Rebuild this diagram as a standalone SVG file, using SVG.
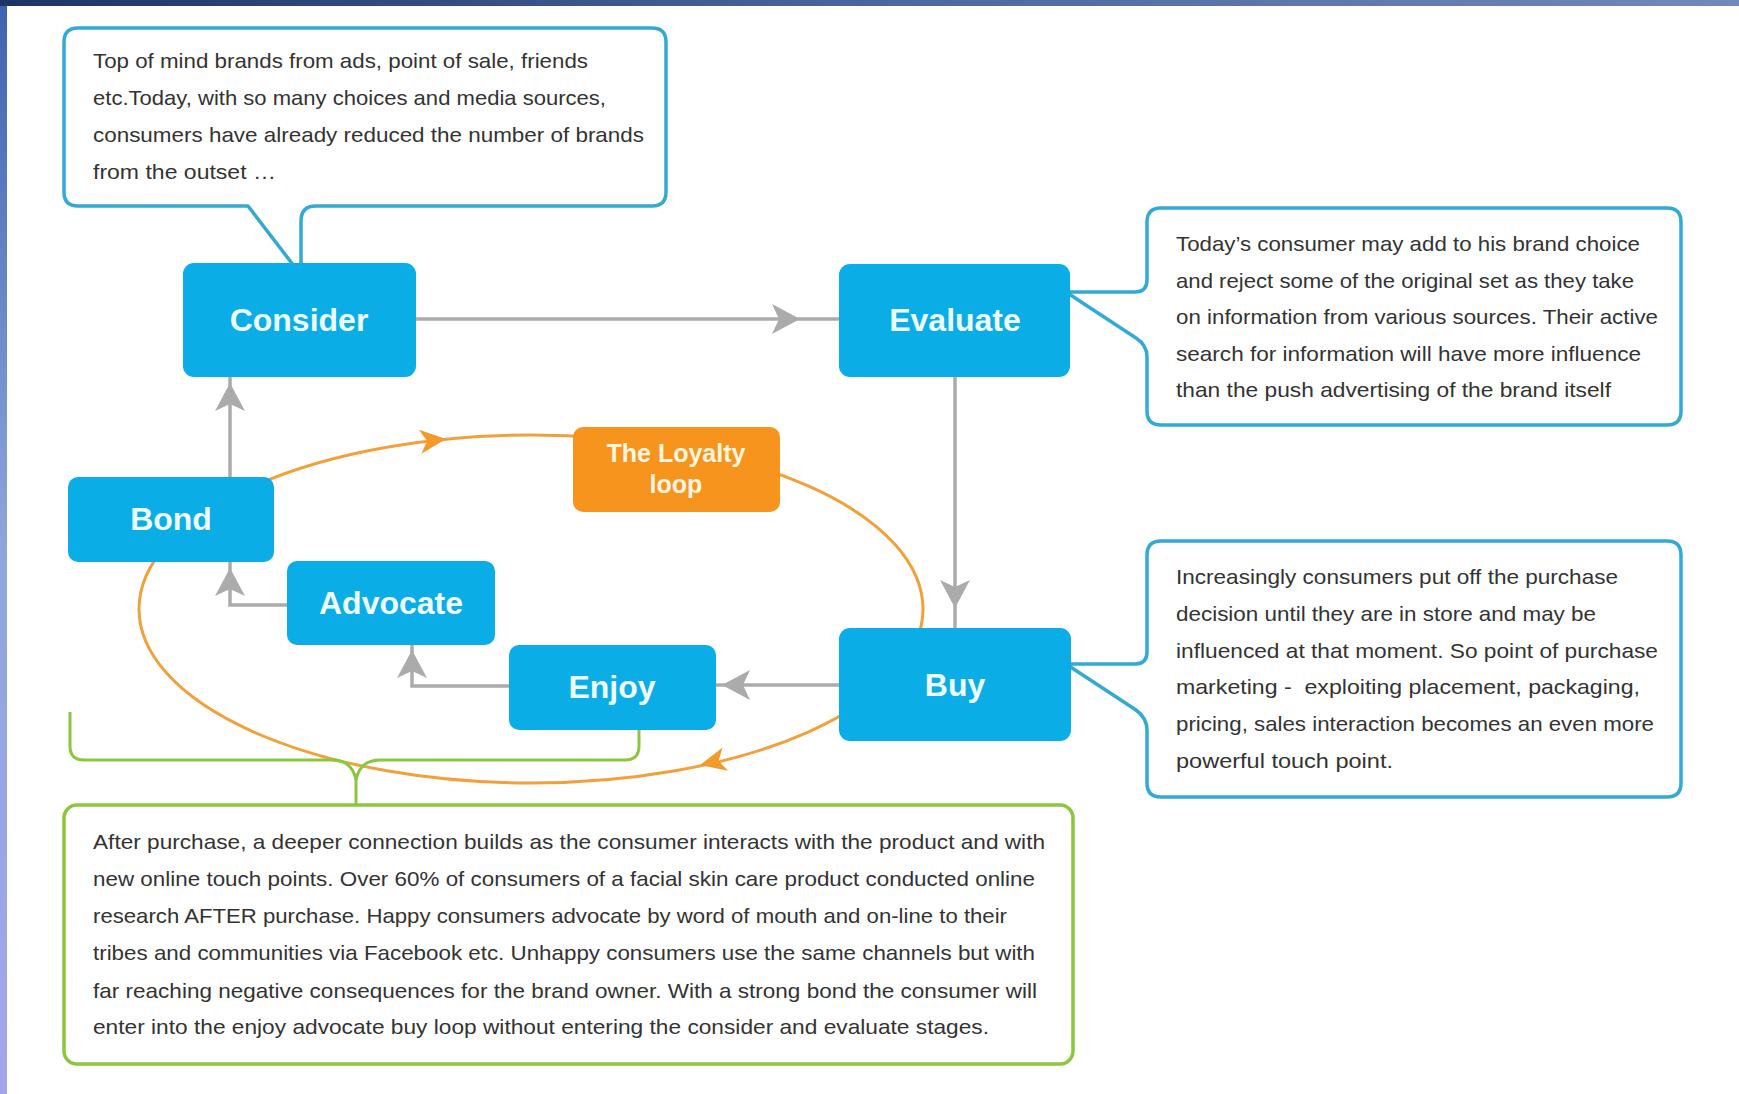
<svg xmlns="http://www.w3.org/2000/svg" xmlns:xlink="http://www.w3.org/1999/xlink" width="1739" height="1094" viewBox="0 0 1739 1094">
  <defs>
    <linearGradient id="topbar" x1="0" y1="0" x2="1" y2="0">
      <stop offset="0" stop-color="#1c3466"/>
      <stop offset="0.5" stop-color="#4a66a0"/>
      <stop offset="1" stop-color="#7189bb"/>
    </linearGradient>
    <linearGradient id="leftbar" x1="0" y1="0" x2="0" y2="1">
      <stop offset="0" stop-color="#3f63b0"/>
      <stop offset="0.5" stop-color="#8fa6dc"/>
      <stop offset="1" stop-color="#a3a6ec"/>
    </linearGradient>
    <path id="ah" d="M0,0 L-28,-15 L-21,0 L-28,15 Z"/>
    <path id="oh" d="M0,0 L-26,-12 L-19,0 L-26,12 Z"/>
    <style>
      .node { fill: #0aade6; }
      .loop { fill: #f7941e; }
      .lbl { font-family: "Liberation Sans", Arial, sans-serif; font-weight: bold; font-size: 32px; fill: #effcff; text-anchor: middle; }
      .lbl2 { font-family: "Liberation Sans", Arial, sans-serif; font-weight: bold; font-size: 25px; fill: #fff6e0; text-anchor: middle; }
      .call { fill: #ffffff; stroke: #33a9d4; stroke-width: 3.5; stroke-linejoin: round; }
      .green { fill: #ffffff; stroke: #8cc63f; stroke-width: 3.5; }
      .txt { font-family: "Liberation Sans", Arial, sans-serif; font-size: 21px; fill: #333333; }
      .conn { fill: none; stroke: #ababab; stroke-width: 3.5; }
      .arr { fill: #ababab; }
      .oline { fill: none; stroke: #f2a03a; stroke-width: 3; }
      .oarr { fill: #f39a2a; }
      .gline { fill: none; stroke: #8cc63f; stroke-width: 3; }
    </style>
  </defs>

  <rect x="0" y="0" width="1739" height="1094" fill="#ffffff"/>
  <rect x="0" y="0" width="1739" height="6" fill="url(#topbar)"/>
  <rect x="0" y="6" width="7" height="1088" fill="url(#leftbar)"/>

  <!-- loyalty loop ellipse (behind nodes) -->
  <g id="loyalty-loop">
    <ellipse cx="531" cy="609" rx="392" ry="174" class="oline"/>
    <use href="#oh" class="oarr" transform="translate(446,439) rotate(-6)"/>
    <use href="#oh" class="oarr" transform="translate(700,765) rotate(167)"/>
  </g>

  <!-- green bracket -->
  <g id="bracket">
    <path class="gline" d="M70,712 V746 Q70,760 84,760 H332 Q352,760 356,780"/>
    <path class="gline" d="M639,727 V746 Q639,760 625,760 H380 Q360,760 356,780 V805"/>
  </g>

  <!-- connectors -->
  <g id="connectors">
    <path class="conn" d="M416,319 H839"/>
    <use href="#ah" class="arr" transform="translate(800,319)"/>
    <path class="conn" d="M955,377 V628"/>
    <use href="#ah" class="arr" transform="translate(955,608) rotate(90)"/>
    <path class="conn" d="M839,685 H716"/>
    <use href="#ah" class="arr" transform="translate(722,685) rotate(180)"/>
    <path class="conn" d="M509,686 H412 V645"/>
    <use href="#ah" class="arr" transform="translate(412,650) rotate(-90)"/>
    <path class="conn" d="M287,605 H230 V562"/>
    <use href="#ah" class="arr" transform="translate(230,568) rotate(-90)"/>
    <path class="conn" d="M230,477 V377"/>
    <use href="#ah" class="arr" transform="translate(230,383) rotate(-90)"/>
  </g>

  <!-- callouts -->
  <g id="callout-consider">
    <path class="call" d="M78,28 H652 Q666,28 666,42 V192 Q666,206 652,206 H316 Q301,206 301,221 V266 L294,266 L248,206 H78 Q64,206 64,192 V42 Q64,28 78,28 Z"/>
    <text class="txt" x="93" y="68" textLength="495" lengthAdjust="spacingAndGlyphs">Top of mind brands from ads, point of sale, friends</text>
    <text class="txt" x="93" y="105" textLength="513" lengthAdjust="spacingAndGlyphs">etc.Today, with so many choices and media sources,</text>
    <text class="txt" x="93" y="142" textLength="551" lengthAdjust="spacingAndGlyphs">consumers have already reduced the number of brands</text>
    <text class="txt" x="93" y="179" textLength="183" lengthAdjust="spacingAndGlyphs">from the outset …</text>
  </g>

  <g id="callout-evaluate">
    <path class="call" d="M1161,208 H1667 Q1681,208 1681,222 V411 Q1681,425 1667,425 H1161 Q1147,425 1147,411 V357 Q1147,345 1136,338 L1066,292 H1135 Q1147,292 1147,280 V222 Q1147,208 1161,208 Z"/>
    <text class="txt" x="1176" y="251" textLength="464" lengthAdjust="spacingAndGlyphs">Today’s consumer may add to his brand choice</text>
    <text class="txt" x="1176" y="288" textLength="458" lengthAdjust="spacingAndGlyphs">and reject some of the original set as they take</text>
    <text class="txt" x="1176" y="324" textLength="482" lengthAdjust="spacingAndGlyphs">on information from various sources. Their active</text>
    <text class="txt" x="1176" y="361" textLength="465" lengthAdjust="spacingAndGlyphs">search for information will have more influence</text>
    <text class="txt" x="1176" y="397" textLength="435" lengthAdjust="spacingAndGlyphs">than the push advertising of the brand itself</text>
  </g>

  <g id="callout-buy">
    <path class="call" d="M1161,541 H1667 Q1681,541 1681,555 V783 Q1681,797 1667,797 H1161 Q1147,797 1147,783 V730 Q1147,718 1136,710 L1066,664 H1135 Q1147,664 1147,652 V555 Q1147,541 1161,541 Z"/>
    <text class="txt" x="1176" y="584" textLength="442" lengthAdjust="spacingAndGlyphs">Increasingly consumers put off the purchase</text>
    <text class="txt" x="1176" y="621" textLength="420" lengthAdjust="spacingAndGlyphs">decision until they are in store and may be</text>
    <text class="txt" x="1176" y="658" textLength="482" lengthAdjust="spacingAndGlyphs">influenced at that moment. So point of purchase</text>
    <text class="txt" x="1176" y="694" textLength="464" lengthAdjust="spacingAndGlyphs" xml:space="preserve">marketing -  exploiting placement, packaging,</text>
    <text class="txt" x="1176" y="731" textLength="478" lengthAdjust="spacingAndGlyphs">pricing, sales interaction becomes an even more</text>
    <text class="txt" x="1176" y="768" textLength="217" lengthAdjust="spacingAndGlyphs">powerful touch point.</text>
  </g>

  <g id="callout-after">
    <rect class="green" x="64" y="805" width="1009" height="259" rx="13"/>
    <text class="txt" x="93" y="849" textLength="952" lengthAdjust="spacingAndGlyphs">After purchase, a deeper connection builds as the consumer interacts with the product and with</text>
    <text class="txt" x="93" y="886" textLength="942" lengthAdjust="spacingAndGlyphs">new online touch points. Over 60% of consumers of a facial skin care product conducted online</text>
    <text class="txt" x="93" y="923" textLength="914" lengthAdjust="spacingAndGlyphs">research AFTER purchase. Happy consumers advocate by word of mouth and on-line to their</text>
    <text class="txt" x="93" y="960" textLength="942" lengthAdjust="spacingAndGlyphs">tribes and communities via Facebook etc. Unhappy consumers use the same channels but with</text>
    <text class="txt" x="93" y="998" textLength="944" lengthAdjust="spacingAndGlyphs">far reaching negative consequences for the brand owner. With a strong bond the consumer will</text>
    <text class="txt" x="93" y="1034" textLength="896" lengthAdjust="spacingAndGlyphs">enter into the enjoy advocate buy loop without entering the consider and evaluate stages.</text>
  </g>

  <!-- nodes -->
  <g id="node-consider">
    <rect class="node" x="183" y="263" width="233" height="114" rx="11"/>
    <text class="lbl" x="299" y="331">Consider</text>
  </g>
  <g id="node-evaluate">
    <rect class="node" x="839" y="264" width="231" height="113" rx="11"/>
    <text class="lbl" x="955" y="331">Evaluate</text>
  </g>
  <g id="node-buy">
    <rect class="node" x="839" y="628" width="232" height="113" rx="11"/>
    <text class="lbl" x="955" y="696">Buy</text>
  </g>
  <g id="node-enjoy">
    <rect class="node" x="509" y="645" width="207" height="85" rx="10"/>
    <text class="lbl" x="612" y="698">Enjoy</text>
  </g>
  <g id="node-advocate">
    <rect class="node" x="287" y="561" width="208" height="84" rx="10"/>
    <text class="lbl" x="391" y="614">Advocate</text>
  </g>
  <g id="node-bond">
    <rect class="node" x="68" y="477" width="206" height="85" rx="10"/>
    <text class="lbl" x="171" y="530">Bond</text>
  </g>
  <g id="node-loyalty">
    <rect class="loop" x="573" y="427" width="207" height="85" rx="10"/>
    <text class="lbl2" x="676" y="462">The Loyalty</text>
    <text class="lbl2" x="676" y="493">loop</text>
  </g>
</svg>
